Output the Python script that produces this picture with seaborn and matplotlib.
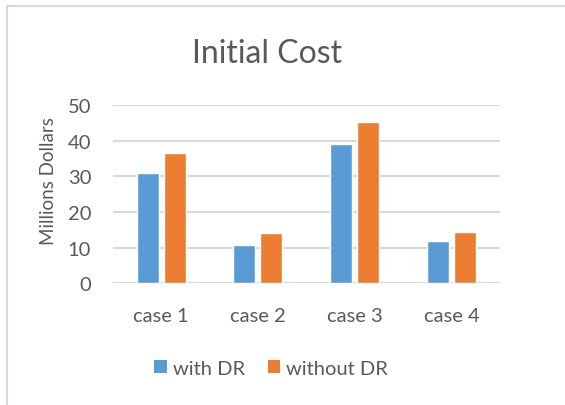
import matplotlib
matplotlib.use("Agg")
import matplotlib.pyplot as plt
from matplotlib.lines import Line2D
from matplotlib.patches import Patch
import seaborn as sns
import pandas as pd

cases = ["case 1", "case 2", "case 3", "case 4"]
with_dr = [30.9, 10.7, 39.0, 11.8]
without_dr = [36.4, 14.1, 45.3, 14.5]
series = ["with DR", "without DR"]
y_ticks = [0, 10, 20, 30, 40, 50]

df = pd.DataFrame({
    "case": cases * 2,
    "cost": with_dr + without_dr,
    "series": [series[0]] * len(cases) + [series[1]] * len(cases),
})

sns.set_theme(style="white")
plt.rcParams["font.family"] = ["Lato", "DejaVu Sans"]

text_color = "#595959"
grid_color = "#D9D9D9"
palette = {"with DR": "#5B9BD5", "without DR": "#ED7D31"}

fig = plt.figure(figsize=(5.65, 4.06), dpi=100)
ax = fig.add_axes([0.1995, 0.2997, 0.6855, 0.4393])

sns.barplot(data=df, x="case", y="cost", hue="series", palette=palette,
            width=0.558, gap=0.185, saturation=1, ax=ax, legend=False,
            zorder=3)

ax.set_ylim(0, 50)
ax.set_yticks(y_ticks)
ax.set_xlim(-0.5, len(cases) - 0.5)
for t in y_ticks:
    ax.axhline(t, color=grid_color, lw=1.5, zorder=1)
for s in ax.spines.values():
    s.set_visible(False)
ax.tick_params(axis="both", length=0, labelsize=14.5, colors=text_color)
ax.tick_params(axis="y", pad=15.5)
ax.tick_params(axis="x", pad=17)
ax.set_xlabel("")
ax.set_ylabel("Millions Dollars", fontsize=13.5, color=text_color)
ax.yaxis.set_label_coords(-0.144, 0.58)

fig.text(0.473, 0.868, "Initial Cost", ha="center", va="center",
         fontsize=23, color=text_color)

handles = [Patch(facecolor=palette[s], edgecolor="none", label=s) for s in series]
fig.legend(handles=handles, loc="center", bbox_to_anchor=(0.48, 0.091),
           ncol=2, frameon=False, fontsize=14.5, labelcolor=text_color,
           handlelength=0.6, handleheight=0.6, handletextpad=0.3,
           columnspacing=1.15)

# chart-area frame on the top and left edges
fig.add_artist(Line2D([7 / 565, 1], [1 - 7 / 406] * 2, color=grid_color, lw=1.5))
fig.add_artist(Line2D([7 / 565] * 2, [0, 1 - 7 / 406], color=grid_color, lw=1.5))

fig.savefig("out.png", dpi=100, facecolor="white")
